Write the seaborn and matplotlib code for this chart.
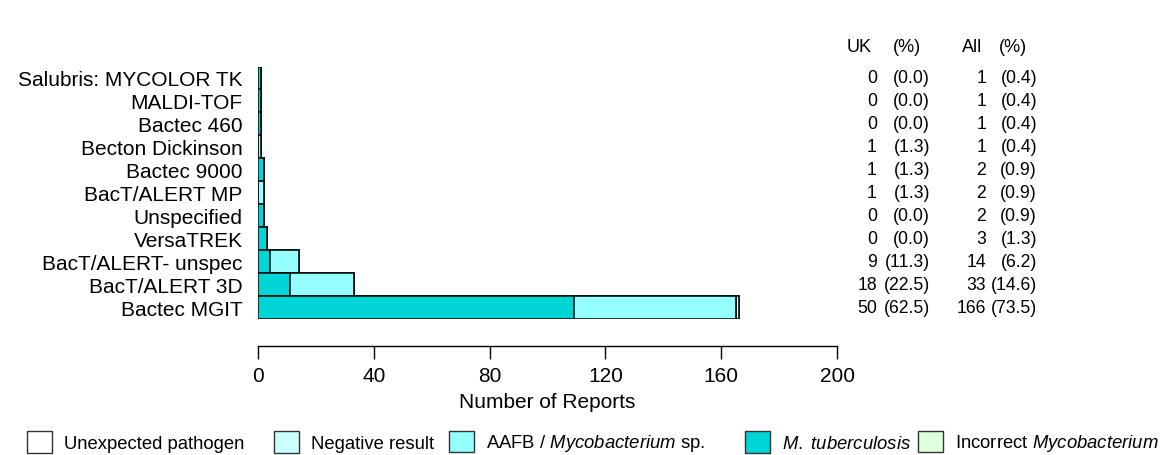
import matplotlib
matplotlib.use("Agg")
import matplotlib.pyplot as plt
from matplotlib.patches import Patch
from matplotlib.transforms import blended_transform_factory
import numpy as np
import pandas as pd
import seaborn as sns

sns.set_style("white")
plt.rcParams['font.family'] = ['Liberation Sans', 'DejaVu Sans']
plt.rcParams['mathtext.fontset'] = 'custom'
plt.rcParams['mathtext.it'] = 'Liberation Sans:italic'
plt.rcParams['mathtext.rm'] = 'Liberation Sans'
for k in ['text.color', 'axes.labelcolor', 'xtick.color', 'ytick.color']:
    plt.rcParams[k] = 'black'

# ---- data ----
categories = ["Salubris: MYCOLOR TK", "MALDI-TOF", "Bactec 460", "Becton Dickinson",
              "Bactec 9000", "BacT/ALERT MP", "Unspecified", "VersaTREK",
              "BacT/ALERT- unspec", "BacT/ALERT 3D", "Bactec MGIT"]
mtb        = [1, 1, 1, 0, 2, 0, 2, 3, 4, 11, 109]
aafb       = [0, 0, 0, 1, 0, 2, 0, 0, 10, 22, 56]
negative   = [0, 0, 0, 0, 0, 0, 0, 0, 0, 0, 0]
unexpected = [0, 0, 0, 0, 0, 0, 0, 0, 0, 0, 1]
incorrect  = [0, 0, 0, 0, 0, 0, 0, 0, 0, 0, 0]

uk_n   = [0, 0, 0, 1, 1, 1, 0, 0, 9, 18, 50]
uk_pct = [0.0, 0.0, 0.0, 1.3, 1.3, 1.3, 0.0, 0.0, 11.3, 22.5, 62.5]
all_n  = [1, 1, 1, 1, 2, 2, 2, 3, 14, 33, 166]
all_pct = [0.4, 0.4, 0.4, 0.4, 0.9, 0.9, 0.9, 1.3, 6.2, 14.6, 73.5]

x_ticks = [0, 40, 80, 120, 160, 200]

col_mtb = "#00D6D6"
col_aafb = "#95FFFF"
col_neg = "#CCFFFF"
col_unexp = "#FFFFFF"
col_incor = "#DDFFDD"

# ---- stacking via overlaid cumulative bars ----
c1 = np.array(mtb)
c2 = c1 + np.array(aafb)
c3 = c2 + np.array(negative)
c4 = c3 + np.array(unexpected)
c5 = c4 + np.array(incorrect)

W, H = 1168, 456
fig = plt.figure(figsize=(W / 100, H / 100), dpi=100)
ax_left, ax_right = 258, 837
ax_top, ax_bot = 67.5, 319.5
ax = fig.add_axes([ax_left / W, 1 - ax_bot / H, (ax_right - ax_left) / W, (ax_bot - ax_top) / H])

layers = [(c5, col_incor), (c4, col_unexp), (c3, col_neg), (c2, col_aafb), (c1, col_mtb)]
for vals, col in layers:
    df = pd.DataFrame({"cat": categories, "val": vals})
    sns.barplot(data=df, x="val", y="cat", orient="h", color=col, saturation=1,
                edgecolor="#111111", linewidth=1.2, width=1.0, ax=ax, order=categories)

ax.set_xlim(0, 200)
ax.set_ylim(len(categories) - 0.5, -0.5)
ax.set_xticks(x_ticks)
ax.set_xticklabels([str(t) for t in x_ticks])
ax.set_xlabel("Number of Reports", fontsize=15, labelpad=5)
ax.set_ylabel("")
ax.tick_params(axis="y", length=0, labelsize=15, pad=11)
ax.tick_params(axis="x", direction="out", length=9, width=1, color="black", pad=5,
               bottom=True, labelsize=15)
for s in ["top", "right", "left"]:
    ax.spines[s].set_visible(False)
ax.spines["bottom"].set_position(("outward", 20))
ax.spines["bottom"].set_color("black")
ax.spines["bottom"].set_linewidth(1)
ax.grid(False)

# ---- right-hand table ----
tr = blended_transform_factory(fig.transFigure, ax.transData)
fs_tab = 12.7
xs = [877 / W, 930 / W, 986 / W, 1037 / W]
for i in range(len(categories)):
    ax.text(xs[0], i, f"{uk_n[i]}", transform=tr, ha="right", va="center", fontsize=fs_tab)
    ax.text(xs[1], i, f"({uk_pct[i]:.1f})", transform=tr, ha="right", va="center", fontsize=fs_tab)
    ax.text(xs[2], i, f"{all_n[i]}", transform=tr, ha="right", va="center", fontsize=fs_tab)
    ax.text(xs[3], i, f"({all_pct[i]:.1f})", transform=tr, ha="right", va="center", fontsize=fs_tab)
hy = 1 - 47 / H
fig.text(872 / W, hy, "UK", ha="right", va="center", fontsize=13)
fig.text(921 / W, hy, "(%)", ha="right", va="center", fontsize=13)
fig.text(982 / W, hy, "All", ha="right", va="center", fontsize=13)
fig.text(1027 / W, hy, "(%)", ha="right", va="center", fontsize=13)

# ---- legend (one entry per legend so the spacing follows the reference) ----
leg_cols = [col_unexp, col_neg, col_aafb, col_mtb, col_incor]
leg_labels = ["Unexpected pathogen", "Negative result",
              r"AAFB / $\it{Mycobacterium}$ sp.", r"$\it{M.\ tuberculosis}$",
              r"Incorrect $\it{Mycobacterium}$"]
leg_x = [27, 274, 449, 745, 918]
for col, lab, xpx in zip(leg_cols, leg_labels, leg_x):
    h = Patch(facecolor=col, edgecolor="#333333", linewidth=1)
    fig.legend([h], [lab], loc="center left", bbox_to_anchor=(xpx / W, 1 - 443 / H),
               frameon=False, fontsize=13.3, handlelength=1.35, handleheight=1.4,
               handletextpad=0.65, borderpad=0, borderaxespad=0)

fig.savefig("out.png", dpi=100)
